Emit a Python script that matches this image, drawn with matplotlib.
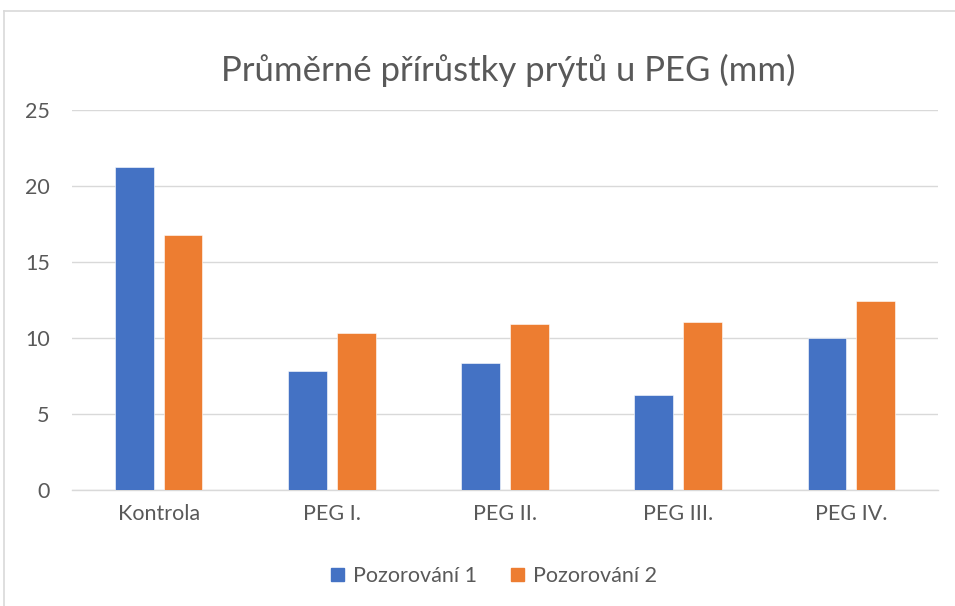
import matplotlib.pyplot as plt
import numpy as np
from matplotlib.lines import Line2D

categories = ["Kontrola", "PEG I.", "PEG II.", "PEG III.", "PEG IV."]
pozorovani_1 = [21.25, 7.85, 8.33, 6.27, 10.0]
pozorovani_2 = [16.77, 10.31, 10.92, 11.08, 12.43]
series_names = ["Pozorování 1", "Pozorování 2"]

plt.rcParams['font.family'] = ['Lato', 'DejaVu Sans']
gray = '#595959'

fig = plt.figure(figsize=(9.55, 6.06), dpi=100)
ax = fig.add_axes([72 / 955, 1 - 490 / 606, 866 / 955, 380 / 606])

x = np.arange(len(categories))
w = 0.224
off = (w + 0.057) / 2
ax.bar(x - off, pozorovani_1, w, color='#4472C4', edgecolor='white', linewidth=0.4,
       label=series_names[0], zorder=3)
ax.bar(x + off, pozorovani_2, w, color='#ED7D31', edgecolor='white', linewidth=0.4,
       label=series_names[1], zorder=3)

ax.set_xlim(-0.5, len(categories) - 0.5)
ax.set_ylim(0, 25)
ax.set_yticks(range(0, 26, 5))
ax.set_xticks(x)
ax.set_xticklabels(categories)
ax.grid(axis='y', color='#d9d9d9', linewidth=1, zorder=0)
for s in ['top', 'right', 'left']:
    ax.spines[s].set_visible(False)
ax.spines['bottom'].set_color('#d9d9d9')
ax.spines['bottom'].set_linewidth(1)
ax.tick_params(axis='both', length=0, labelsize=15.5, labelcolor=gray)
ax.tick_params(axis='x', pad=10)
ax.tick_params(axis='y', pad=16)

fig.text(508 / 955, 1 - 70 / 606, "Průměrné přírůstky prýtů u PEG (mm)",
         ha='center', va='center', fontsize=25, color=gray)

handles = [plt.Rectangle((0, 0), 1, 1, color='#4472C4'),
           plt.Rectangle((0, 0), 1, 1, color='#ED7D31')]
fig.legend(handles, series_names, loc='center', bbox_to_anchor=(494 / 955, 1 - 576 / 606),
           ncol=2, frameon=False, fontsize=15.5, labelcolor=gray,
           handlelength=0.6, handleheight=0.6, handletextpad=0.4, columnspacing=1.6)

# chart border (top and left edges visible)
fig.add_artist(Line2D([4 / 955, 1], [1 - 11 / 606, 1 - 11 / 606], color='#d9d9d9', lw=1.2))
fig.add_artist(Line2D([4 / 955, 4 / 955], [0, 1 - 11 / 606], color='#d9d9d9', lw=1.2))

fig.savefig('out.png', dpi=100)
